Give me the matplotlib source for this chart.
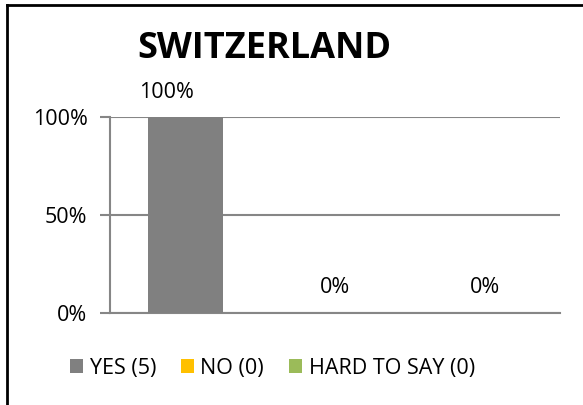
import matplotlib
matplotlib.use('Agg')
import matplotlib.pyplot as plt
from matplotlib.patches import Patch
from matplotlib.lines import Line2D

plt.rcParams['font.family'] = ['Open Sans', 'DejaVu Sans']

TITLE = 'SWITZERLAND'
CATEGORIES = ['YES (5)', 'NO (0)', 'HARD TO SAY (0)']
SHARES = [1.0, 0.0, 0.0]
COLORS = ['#808080', '#ffc000', '#9bbb59']
YTICKS = [0.0, 0.5, 1.0]

GRID = '#868686'

fig = plt.figure(figsize=(5.83, 4.05), dpi=100)
ax = fig.add_axes([0.1887, 0.2272, 0.7718, 0.4839])

x = range(len(CATEGORIES))
ax.bar(x, SHARES, width=0.5, color=COLORS, zorder=3)
ax.set_xlim(-0.5, len(CATEGORIES) - 0.5)
ax.set_ylim(0, 1)

ax.set_yticks(YTICKS)
ax.set_yticklabels([f'{int(t * 100)}%' for t in YTICKS], fontsize=15.5)
ax.yaxis.grid(True, color=GRID, linewidth=1.5, zorder=0)
ax.tick_params(axis='y', length=7.2, width=1.5, color=GRID, pad=9)
ax.tick_params(axis='x', length=0, labelbottom=False)
for side in ('top', 'right'):
  ax.spines[side].set_visible(False)
for side in ('left', 'bottom'):
  ax.spines[side].set_color(GRID)
  ax.spines[side].set_linewidth(1.5)

# value labels above each bar, the tall one nudged left
for i, v in enumerate(SHARES):
  dx = -13 if v > 0 else 0
  ax.annotate(f'{int(round(v * 100))}%', (i, v), textcoords='offset points',
              xytext=(dx, 18), ha='center', va='center', fontsize=15.5)

fig.text(0.453, 0.878, TITLE, ha='center', va='center', fontsize=26,
         fontweight='bold')

handles = [Patch(facecolor=c, edgecolor='none') for c in COLORS]
fig.legend(handles, CATEGORIES, loc='center', bbox_to_anchor=(0.467, 0.091),
           ncol=3, frameon=False, fontsize=15.5, handlelength=0.62,
           handleheight=0.62, handletextpad=0.3, columnspacing=1.15)

# chart frame: left and top edges only
fig.add_artist(Line2D([0.012, 0.012], [0, 0.987], transform=fig.transFigure,
                      color='black', linewidth=2))
fig.add_artist(Line2D([0.012, 1], [0.987, 0.987], transform=fig.transFigure,
                      color='black', linewidth=2))

fig.savefig('out.png', dpi=100)
